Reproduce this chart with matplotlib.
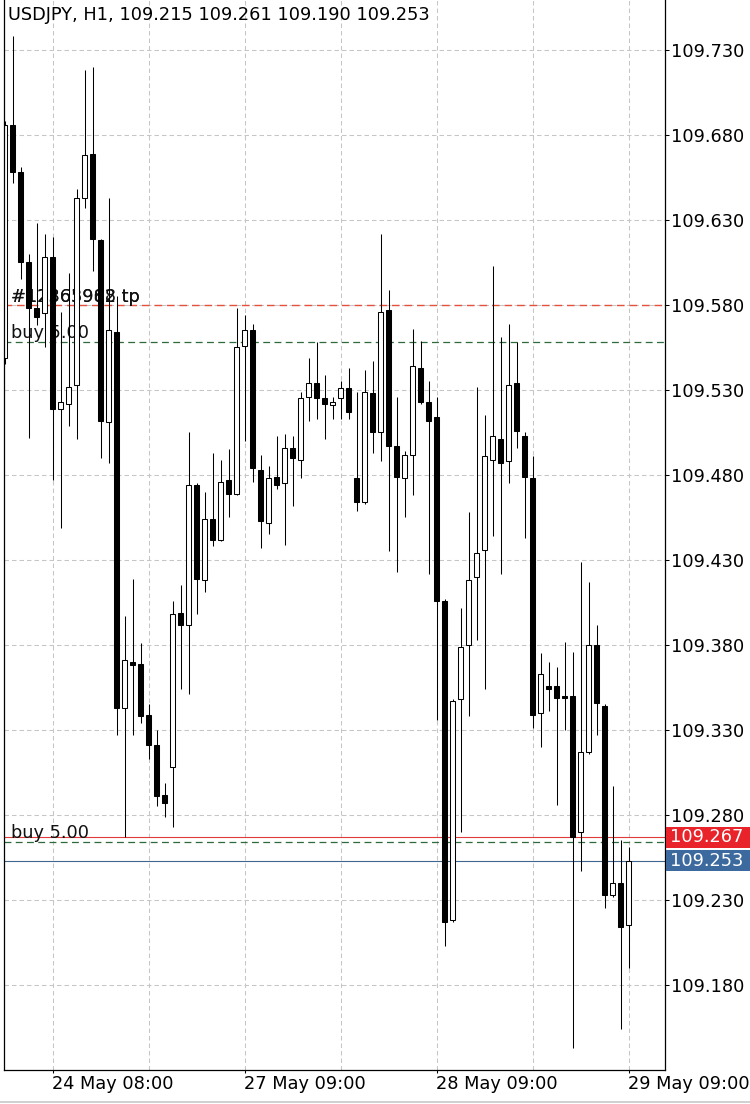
import matplotlib
matplotlib.use("Agg")
import matplotlib.pyplot as plt
import matplotlib.transforms as mtransforms
from matplotlib.patches import Rectangle
from matplotlib.lines import Line2D
from matplotlib.ticker import FixedLocator, FormatStrFormatter

plt.rcParams['font.family'] = ['DejaVu Sans']

# ---------------- data ----------------
chart_title = "USDJPY, H1, 109.215 109.261 109.190 109.253"

opens = [109.549, 109.686, 109.658, 109.605, 109.578, 109.575, 109.608, 109.519, 109.522, 109.533,
         109.643, 109.669, 109.618, 109.511, 109.564, 109.343, 109.370, 109.369, 109.339, 109.321,
         109.292, 109.308, 109.399, 109.392, 109.474, 109.418, 109.454, 109.442, 109.477, 109.469,
         109.556, 109.565, 109.483, 109.452, 109.479, 109.475, 109.496, 109.489, 109.526, 109.534,
         109.525, 109.521, 109.525, 109.531, 109.478, 109.464, 109.528, 109.505, 109.577, 109.497,
         109.478, 109.492, 109.543, 109.523, 109.514, 109.406, 109.218, 109.348, 109.380, 109.420,
         109.436, 109.489, 109.501, 109.488, 109.534, 109.503, 109.478, 109.340, 109.356, 109.356,
         109.350, 109.350, 109.270, 109.317, 109.380, 109.344, 109.233, 109.240, 109.215]
highs = [109.688, 109.738, 109.661, 109.610, 109.628, 109.622, 109.620, 109.576, 109.599, 109.648,
         109.718, 109.720, 109.619, 109.643, 109.585, 109.397, 109.419, 109.381, 109.345, 109.330,
         109.299, 109.406, 109.415, 109.505, 109.475, 109.470, 109.493, 109.489, 109.495, 109.578,
         109.574, 109.569, 109.492, 109.485, 109.503, 109.504, 109.503, 109.529, 109.549, 109.558,
         109.539, 109.526, 109.535, 109.543, 109.529, 109.542, 109.547, 109.622, 109.589, 109.526,
         109.494, 109.566, 109.559, 109.535, 109.526, 109.407, 109.348, 109.402, 109.458, 109.532,
         109.515, 109.603, 109.561, 109.569, 109.558, 109.505, 109.491, 109.375, 109.370, 109.367,
         109.382, 109.376, 109.429, 109.417, 109.392, 109.345, 109.297, 109.265, 109.261]
lows = [109.545, 109.652, 109.595, 109.502, 109.568, 109.555, 109.477, 109.449, 109.509, 109.501,
        109.637, 109.600, 109.490, 109.487, 109.327, 109.267, 109.327, 109.334, 109.313, 109.285,
        109.279, 109.273, 109.354, 109.351, 109.398, 109.411, 109.438, 109.441, 109.455, 109.468,
        109.500, 109.476, 109.437, 109.445, 109.472, 109.439, 109.462, 109.478, 109.512, 109.513,
        109.501, 109.513, 109.513, 109.513, 109.459, 109.463, 109.493, 109.488, 109.435, 109.423,
        109.455, 109.468, 109.522, 109.422, 109.336, 109.203, 109.217, 109.270, 109.338, 109.383,
        109.354, 109.444, 109.422, 109.475, 109.496, 109.443, 109.331, 109.320, 109.341, 109.286,
        109.330, 109.143, 109.247, 109.316, 109.327, 109.225, 109.232, 109.154, 109.190]
closes = [109.686, 109.658, 109.605, 109.578, 109.573, 109.608, 109.519, 109.523, 109.532, 109.643,
          109.668, 109.619, 109.512, 109.565, 109.343, 109.371, 109.368, 109.338, 109.321, 109.291,
          109.287, 109.398, 109.392, 109.474, 109.419, 109.454, 109.442, 109.476, 109.469, 109.555,
          109.565, 109.484, 109.453, 109.478, 109.474, 109.496, 109.490, 109.525, 109.534, 109.525,
          109.522, 109.523, 109.531, 109.517, 109.464, 109.529, 109.505, 109.576, 109.497, 109.479,
          109.492, 109.544, 109.523, 109.512, 109.406, 109.217, 109.347, 109.379, 109.418, 109.434,
          109.491, 109.503, 109.487, 109.533, 109.506, 109.479, 109.339, 109.363, 109.354, 109.349,
          109.349, 109.267, 109.317, 109.380, 109.346, 109.233, 109.240, 109.214, 109.253]

time_tick_idx = [6, 30, 54, 78]
time_tick_labels = ["24 May 08:00", "27 May 09:00", "28 May 09:00", "29 May 09:00"]
time_grid_idx = [6, 18, 30, 42, 54, 66, 78]
price_ticks = [109.180, 109.230, 109.280, 109.330, 109.380, 109.430,
               109.480, 109.530, 109.580, 109.630, 109.680, 109.730]

tp_price = 109.580
tp_labels = ["#12365962 tp", "#12363988 tp"]
buy_prices = [109.558, 109.264]
buy_labels = ["buy 5.00", "buy 5.00"]
ask_price = 109.267
bid_price = 109.253

# ---------------- figure ----------------
W, H = 750, 1104
fig = plt.figure(figsize=(W / 100, H / 100), dpi=100)
ax_left, ax_right, ax_bottom_px = 4, 664.5, 1070
ax = fig.add_axes([ax_left / W, (H - ax_bottom_px) / H, (ax_right - ax_left) / W, ax_bottom_px / H])

y_lo, y_hi = 109.13, 109.7594
ax.set_xlim(-0.0625, 82.5)
ax.set_ylim(y_lo, y_hi)
px_per_unit = ax_bottom_px / (y_hi - y_lo)

n = len(opens)
xs = list(range(n))

# grid
grid_kw = dict(color='#c6c6c6', lw=0.75, dashes=(4.3, 2.9), zorder=0.5)
for gi in time_grid_idx:
    ax.axvline(gi, **grid_kw)
for p in price_ticks:
    ax.axhline(p, **grid_kw)

# trade lines
ax.axhline(tp_price, color='#e4513c', lw=1.0, dashes=(5.5, 3.5), zorder=1)
for bp in buy_prices:
    ax.axhline(bp, color='#2f6a3c', lw=0.9, dashes=(5.5, 3.5), zorder=1)
ax.axhline(ask_price, color='#e23a3a', lw=0.8, zorder=1)
ax.axhline(bid_price, color='#3f6690', lw=0.8, zorder=1)

# labels (behind candles)
btrans = mtransforms.blended_transform_factory(ax.transAxes, ax.transData)
for lab in tp_labels:
    ax.annotate(lab, xy=(0, tp_price), xycoords=btrans, xytext=(5.0, 2.4),
                textcoords='offset points', fontsize=12.8, color='#111111',
                va='baseline', ha='left', zorder=1.5)
for bp, lab in zip(buy_prices, buy_labels):
    ax.annotate(lab, xy=(0, bp), xycoords=btrans, xytext=(5.0, 3.2),
                textcoords='offset points', fontsize=12.8, color='#111111',
                va='baseline', ha='left', zorder=1.5)

# candles
ax.vlines(xs, lows, highs, colors='black', lw=0.75, zorder=2)
bottoms = [min(o, c) for o, c in zip(opens, closes)]
heights = [max(abs(c - o), 0.0004) for o, c in zip(opens, closes)]
fills = ['white' if c >= o else 'black' for o, c in zip(opens, closes)]
ax.bar(xs, heights, bottom=bottoms, width=0.52, color=fills, edgecolor='black',
       linewidth=0.75, zorder=3)

# axes styling
ax.spines['top'].set_visible(False)
for s in ('left', 'right', 'bottom'):
    ax.spines[s].set_linewidth(0.9)
    ax.spines[s].set_color('black')
ax.spines['left'].set_zorder(4)

ax.yaxis.tick_right()
ax.yaxis.set_major_locator(FixedLocator(price_ticks))
ax.yaxis.set_major_formatter(FormatStrFormatter('%.3f'))
ax.tick_params(axis='y', which='major', direction='out', length=3, width=0.75,
               pad=1.5, labelsize=12.8, colors='black')

ax.set_xticks(time_tick_idx)
ax.set_xticklabels(time_tick_labels, ha='left')
ax.tick_params(axis='x', which='major', direction='out', length=2.3, width=0.75,
               pad=1.5, labelsize=12.8, colors='black')

# price tags at right
box_h = 21 / px_per_unit
tag_x0 = 665.5 / W
trans = mtransforms.blended_transform_factory(fig.transFigure, ax.transData)
for price, col in ((ask_price, '#e8242a'), (bid_price, '#3d6a9e')):
    rect = Rectangle((tag_x0, price - box_h / 2), 1 - tag_x0, box_h, transform=trans,
                     facecolor=col, edgecolor='none', clip_on=False, zorder=5)
    fig.add_artist(rect)
    fig.text(670 / W, price, f"{price:.3f}", transform=trans, color='white', fontsize=12.8,
             va='center', ha='left', zorder=6)

# title
fig.text(8.5 / W, 1 - 20 / H, chart_title, fontsize=12.8, color='black',
         va='baseline', ha='left')

# bottom border line
fig.add_artist(Line2D([0, 1], [2.5 / H, 2.5 / H], transform=fig.transFigure,
                      color='#c8c8c8', lw=1.2))

fig.savefig('out.png', dpi=100, facecolor='white')
